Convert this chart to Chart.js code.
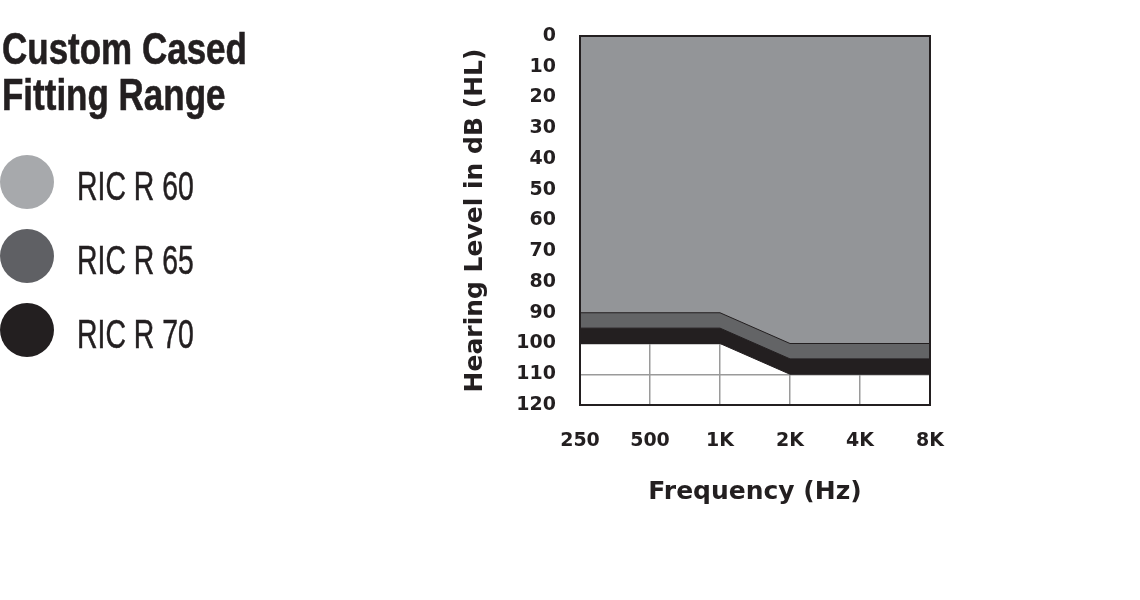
<!DOCTYPE html>
<html>
<head>
<meta charset="utf-8">
<script src="https://cdn.jsdelivr.net/npm/chart.js@4.4.1/dist/chart.umd.min.js"></script>
<style>
    html, body { margin: 0; padding: 0; background: #fff; }
    #wrap { position: relative; width: 1140px; height: 600px; overflow: hidden; }
    #chart { position: absolute; left: 0; top: 0; }
    #legend { position: absolute; left: 0; top: 0; color: #231f20;
        font-family: 'Liberation Sans', Arial, sans-serif; }
    #legend h1 { position: absolute; left: 2px; top: 26px; margin: 0; white-space: nowrap;
        font-size: 44px; line-height: 46px; font-weight: bold; transform-origin: 0 0; transform: scaleX(0.795);
        -webkit-text-stroke: 0.6px #231f20; }
    .item { position: absolute; left: 0; width: 300px; height: 54px; }
    .dot { position: absolute; left: 0; top: 0; width: 54px; height: 54px; border-radius: 50%; }
    .lbl { position: absolute; left: 77px; top: 4px; font-size: 40px; line-height: 54px; white-space: nowrap;
        transform-origin: 0 50%; transform: scaleX(0.71); -webkit-text-stroke: 0.5px #231f20; }
</style>
</head>
<body>
<div id="wrap">
    <canvas id="chart" width="1140" height="600"></canvas>
    <div id="legend">
        <h1>Custom Cased<br>Fitting Range</h1>
    </div>
</div>
<script>
var frequencies = ['250', '500', '1K', '2K', '4K', '8K'];
var seriesNames = ['RIC R 60', 'RIC R 65', 'RIC R 70'];
var r60 = [90, 90, 90, 100, 100, 100];
var r65 = [95, 95, 95, 105, 105, 105];
var r70 = [100, 100, 100, 110, 110, 110];
var yTicks = [0, 10, 20, 30, 40, 50, 60, 70, 80, 90, 100, 110, 120];

var fillColors = ['#939598', '#636466', '#231f20'];
var legendColors = ['#a7a9ac', '#5f6064', '#231f20'];
var ink = '#231f20';

// legend on the left
var legendTops = [155, 229, 303];
seriesNames.forEach(function(name, i) {
    var item = document.createElement('div');
    item.className = 'item';
    item.style.top = legendTops[i] + 'px';
    item.innerHTML = '<div class="dot" style="background:' + legendColors[i] + '"></div>' +
        '<div class="lbl">' + name + '</div>';
    document.getElementById('legend').appendChild(item);
});

// black frame round the plot
var framePlugin = {
    id: 'frame',
    afterDatasetsDraw: function(chart) {
        var a = chart.chartArea, ctx = chart.ctx;
        ctx.save();
        ctx.strokeStyle = ink;
        ctx.lineWidth = 2;
        ctx.strokeRect(a.left, a.top, a.right - a.left, a.bottom - a.top);
        ctx.restore();
    }
};

var allSeries = [r60, r65, r70];
var datasets = allSeries.map(function(values, i) {
    return {
        label: seriesNames[i],
        data: values,
        fill: { value: 0 },
        backgroundColor: fillColors[i],
        borderColor: ink,
        borderWidth: 1,
        pointRadius: 0,
        tension: 0
    };
});

new Chart(document.getElementById('chart'), {
    type: 'line',
    data: { labels: frequencies, datasets: datasets },
    options: {
        responsive: false,
        animation: false,
        layout: { padding: { left: 455, right: 210, top: 36, bottom: 85 } },
        plugins: { legend: { display: false }, tooltip: { enabled: false } },
        scales: {
            x: {
                offset: false,
                grid: { color: '#9a9a9a', lineWidth: 1.5, drawTicks: false },
                border: { display: false },
                ticks: { color: ink, padding: 25, maxRotation: 0,
                    font: { family: 'DejaVu Sans', size: 19, weight: 'bold' } },
                title: { display: true, text: 'Frequency (Hz)', color: ink,
                    font: { family: 'DejaVu Sans', size: 25, weight: 'bold' }, padding: { top: 0, bottom: 8 } },
                afterFit: function(s) { s.height = 110; }
            },
            y: {
                min: 0, max: 120, reverse: true,
                afterBuildTicks: function(s) { s.ticks = yTicks.map(function(v) { return { value: v }; }); },
                grid: { color: '#9a9a9a', lineWidth: 1.5, drawTicks: false },
                border: { display: false },
                ticks: { color: ink, padding: 24,
                    font: { family: 'DejaVu Sans', size: 19, weight: 'bold' } },
                title: { display: true, text: 'Hearing Level in dB (HL)', color: ink,
                    font: { family: 'DejaVu Sans', size: 25, weight: 'bold' }, padding: { top: 5, bottom: 0 } },
                afterFit: function(s) { s.width = 125; }
            }
        }
    },
    plugins: [framePlugin]
});
</script>
</body>
</html>
